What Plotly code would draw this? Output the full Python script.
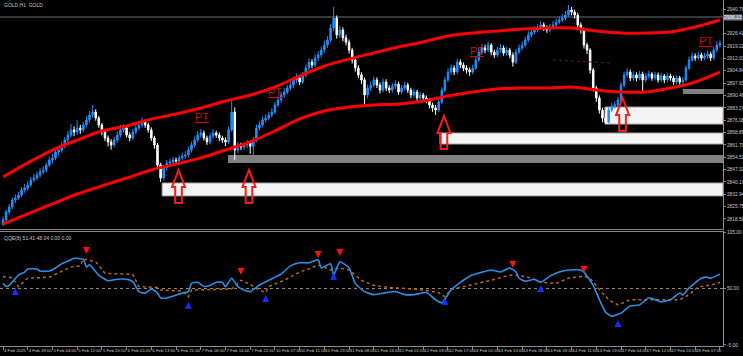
import plotly.graph_objects as go

# ---------------- data ----------------
time_labels = ["4 Feb 2025", "4 Feb 19:00", "5 Feb 04:00", "5 Feb 12:00", "5 Feb 20:00",
               "6 Feb 05:00", "6 Feb 13:00", "6 Feb 21:00", "7 Feb 06:00", "7 Feb 14:00",
               "7 Feb 22:00", "10 Feb 07:00", "10 Feb 15:00", "10 Feb 23:00", "11 Feb 08:00",
               "11 Feb 16:00", "12 Feb 01:00", "12 Feb 09:00", "12 Feb 17:00", "13 Feb 02:00",
               "13 Feb 10:00", "13 Feb 18:00", "14 Feb 03:00", "14 Feb 11:00", "14 Feb 19:00",
               "17 Feb 04:00", "17 Feb 12:00", "17 Feb 20:00", "18 Feb 07:00", "18 Feb 15:00"]
label_every = 8

first_open = 2815.5
close = [2818.0, 2822.6, 2825.5, 2829.6, 2830.8, 2832.5, 2835.4, 2836.6, 2838.3, 2841.3,
         2842.4, 2844.2, 2846.0, 2847.1, 2850.0, 2852.9, 2854.1, 2857.5, 2858.7, 2861.0,
         2864.5, 2867.4, 2870.4, 2869.2, 2871.5, 2870.4, 2873.3, 2876.2, 2879.1, 2880.8,
         2877.3, 2873.3, 2869.2, 2865.7, 2863.4, 2861.6, 2864.5, 2867.4, 2870.4, 2871.5,
         2867.4, 2865.7, 2869.2, 2871.5, 2873.3, 2875.0, 2873.3, 2870.4, 2865.7, 2861.6,
         2850.0, 2842.4, 2848.3, 2851.1, 2851.7, 2852.9, 2852.3, 2854.1, 2855.2, 2855.8,
         2858.7, 2861.6, 2864.5, 2867.4, 2868.6, 2865.7, 2863.4, 2866.9, 2868.6, 2867.4,
         2865.7, 2864.5, 2863.4, 2870.4, 2880.8, 2858.7, 2861.6, 2860.4, 2861.6, 2862.8,
         2860.9, 2864.5, 2871.5, 2873.3, 2876.2, 2877.3, 2879.1, 2880.8, 2884.9, 2887.8,
         2890.7, 2892.5, 2894.8, 2896.5, 2899.5, 2900.6, 2898.3, 2902.4, 2906.4, 2909.9,
         2908.2, 2912.3, 2914.0, 2916.9, 2919.8, 2922.7, 2929.7, 2935.5, 2925.7, 2928.6,
         2924.0, 2921.5, 2916.9, 2911.1, 2906.4, 2902.4, 2899.5, 2890.7, 2894.8, 2896.5,
         2899.5, 2896.5, 2893.6, 2898.3, 2894.8, 2893.6, 2895.9, 2897.1, 2892.5, 2894.8,
         2896.5, 2893.6, 2890.7, 2892.5, 2889.0, 2890.7, 2889.0, 2887.8, 2884.9, 2883.2,
         2882.0, 2886.6, 2893.6, 2899.5, 2904.1, 2906.4, 2904.1, 2909.9, 2908.2, 2906.4,
         2905.3, 2904.1, 2906.4, 2911.1, 2915.7, 2918.1, 2916.9, 2919.8, 2915.7, 2914.0,
         2916.9, 2918.1, 2915.2, 2916.9, 2914.0, 2909.9, 2915.7, 2918.1, 2919.8, 2922.7,
         2925.7, 2927.4, 2928.6, 2929.7, 2931.5, 2929.7, 2928.6, 2930.3, 2931.5, 2933.2,
         2934.4, 2935.5, 2937.3, 2940.2, 2939.0, 2937.3, 2931.5, 2928.6, 2919.8, 2916.9,
         2905.3, 2894.8, 2889.0, 2882.0, 2877.3, 2875.0, 2882.0, 2884.3, 2884.9, 2887.8,
         2896.5, 2902.4, 2904.1, 2900.6, 2902.4, 2900.6, 2902.9, 2899.5, 2901.8, 2902.9,
         2900.6, 2902.4, 2899.5, 2901.8, 2899.5, 2901.8, 2900.6, 2898.3, 2900.6, 2898.3,
         2899.5, 2906.4, 2911.1, 2913.4, 2912.2, 2914.0, 2912.2, 2913.4, 2914.5, 2912.2,
         2916.9, 2919.8, 2920.9]
high = [2820.0, 2824.0, 2827.2, 2831.0, 2833.0, 2834.2, 2837.1, 2839.0, 2840.5, 2843.0,
        2844.8, 2846.1, 2848.2, 2849.3, 2851.6, 2854.9, 2856.3, 2859.4, 2861.0, 2863.5,
        2866.4, 2869.9, 2873.8, 2872.5, 2876.0, 2873.4, 2875.1, 2878.3, 2881.4, 2884.9,
        2882.5, 2878.6, 2874.5, 2870.8, 2867.2, 2865.0, 2866.3, 2869.5, 2873.3, 2873.6,
        2872.8, 2869.0, 2870.9, 2873.6, 2875.4, 2877.6, 2876.4, 2874.6, 2871.9, 2867.0,
        2862.8, 2851.2, 2849.9, 2852.9, 2853.6, 2854.6, 2854.4, 2856.0, 2857.2, 2857.9,
        2860.5, 2863.6, 2866.6, 2869.8, 2870.9, 2870.0, 2867.1, 2868.7, 2870.8, 2869.9,
        2868.9, 2867.0, 2866.1, 2872.3, 2887.2, 2883.5, 2863.3, 2863.0, 2863.2, 2864.5,
        2864.0, 2866.2, 2873.4, 2875.6, 2878.1, 2879.5, 2881.0, 2882.9, 2886.7, 2890.0,
        2892.6, 2894.9, 2896.7, 2898.9, 2901.4, 2903.3, 2902.0, 2904.2, 2908.5, 2912.0,
        2911.6, 2914.4, 2916.3, 2919.0, 2922.3, 2925.0, 2932.0, 2942.0, 2937.0, 2931.0,
        2930.1, 2925.8, 2923.0, 2918.2, 2912.6, 2908.0, 2904.0, 2900.9, 2896.8, 2898.7,
        2901.5, 2901.0, 2898.0, 2900.2, 2899.9, 2896.4, 2897.6, 2899.4, 2898.6, 2896.6,
        2898.3, 2897.9, 2895.0, 2894.4, 2893.8, 2892.5, 2892.0, 2890.5, 2889.0, 2886.3,
        2885.0, 2888.4, 2895.2, 2901.3, 2906.2, 2908.6, 2908.0, 2911.8, 2911.5, 2909.7,
        2908.1, 2906.8, 2908.3, 2913.0, 2918.0, 2920.5, 2920.0, 2921.9, 2921.0, 2917.2,
        2918.7, 2920.3, 2919.6, 2918.8, 2918.1, 2915.5, 2917.4, 2920.2, 2922.0, 2924.8,
        2927.9, 2929.3, 2930.9, 2932.0, 2933.6, 2933.0, 2931.2, 2932.1, 2933.8, 2935.3,
        2936.6, 2937.9, 2939.6, 2943.1, 2942.0, 2940.5, 2938.6, 2933.0, 2929.9, 2921.2,
        2918.0, 2906.5, 2896.1, 2890.5, 2883.4, 2880.0, 2883.6, 2886.2, 2887.0, 2889.6,
        2898.2, 2904.4, 2906.3, 2905.6, 2904.5, 2904.0, 2904.8, 2904.3, 2903.6, 2904.9,
        2904.1, 2904.3, 2903.8, 2903.7, 2903.0, 2903.6, 2903.2, 2902.0, 2902.4, 2901.9,
        2901.2, 2908.0, 2913.1, 2915.6, 2915.0, 2916.0, 2915.4, 2915.3, 2916.6, 2915.9,
        2918.6, 2922.0, 2922.6]
low = [2814.3, 2816.9, 2821.0, 2824.3, 2827.8, 2829.5, 2831.3, 2833.8, 2835.0, 2837.2,
       2839.9, 2841.0, 2842.7, 2844.6, 2845.8, 2848.7, 2851.0, 2852.8, 2855.6, 2857.1,
       2859.6, 2862.8, 2866.0, 2866.7, 2867.5, 2868.1, 2869.0, 2872.0, 2874.9, 2877.6,
       2875.8, 2871.7, 2867.3, 2863.9, 2860.8, 2858.9, 2860.2, 2863.0, 2866.1, 2868.9,
       2865.9, 2863.8, 2864.4, 2868.0, 2870.2, 2871.9, 2871.6, 2868.8, 2864.0, 2859.5,
       2847.6, 2840.1, 2841.0, 2846.9, 2849.5, 2850.3, 2850.6, 2851.0, 2852.7, 2853.6,
       2854.4, 2857.2, 2860.3, 2863.1, 2866.0, 2864.2, 2861.7, 2862.0, 2865.4, 2865.8,
       2863.9, 2862.7, 2861.0, 2862.1, 2869.5, 2852.9, 2857.0, 2858.6, 2858.9, 2859.8,
       2856.5, 2855.5, 2863.1, 2870.0, 2872.0, 2874.6, 2875.9, 2877.7, 2879.5, 2883.6,
       2886.3, 2889.0, 2891.2, 2893.3, 2895.0, 2897.8, 2896.4, 2897.0, 2901.0, 2905.0,
       2906.3, 2907.0, 2910.6, 2912.5, 2915.4, 2918.2, 2921.4, 2928.0, 2923.5, 2924.0,
       2922.0, 2919.6, 2915.0, 2909.0, 2904.3, 2900.6, 2897.2, 2885.5, 2888.9, 2893.0,
       2895.2, 2894.8, 2891.7, 2892.3, 2893.0, 2891.8, 2892.1, 2894.4, 2890.8, 2891.0,
       2893.2, 2891.9, 2888.8, 2889.3, 2887.2, 2887.6, 2887.1, 2885.9, 2883.0, 2880.9,
       2879.1, 2880.7, 2885.5, 2892.4, 2898.1, 2902.5, 2902.2, 2903.0, 2906.4, 2904.6,
       2903.2, 2901.9, 2902.8, 2905.2, 2910.0, 2914.2, 2915.1, 2915.6, 2913.8, 2912.2,
       2912.8, 2915.4, 2913.6, 2913.7, 2912.1, 2907.3, 2908.8, 2914.6, 2916.8, 2918.5,
       2921.4, 2924.2, 2926.0, 2927.1, 2928.3, 2928.0, 2926.9, 2927.2, 2929.0, 2930.2,
       2931.9, 2933.0, 2934.1, 2936.2, 2937.0, 2935.2, 2929.7, 2926.5, 2917.8, 2914.6,
       2903.2, 2892.7, 2886.8, 2879.9, 2874.8, 2874.0, 2874.2, 2880.8, 2882.7, 2883.5,
       2886.6, 2895.3, 2900.9, 2898.9, 2899.0, 2898.7, 2899.3, 2892.0, 2898.0, 2900.3,
       2899.0, 2899.2, 2897.9, 2898.2, 2897.6, 2898.0, 2899.0, 2896.6, 2897.0, 2896.7,
       2896.5, 2898.4, 2905.3, 2910.0, 2910.6, 2910.9, 2910.6, 2911.0, 2911.9, 2910.5,
       2911.0, 2915.6, 2918.4]

# envelope (upper / lower band) read every 8 bars
band_bars = [0, 8, 16, 24, 32, 40, 48, 56, 64, 72, 80, 88, 96, 104, 112, 120, 128, 136,
             144, 152, 160, 168, 176, 184, 192, 200, 208, 216, 224, 232]
band_upper = [2843.0, 2851.2, 2858.7, 2864.5, 2869.8, 2872.7, 2876.7, 2879.7, 2883.2, 2887.2,
              2890.7, 2895.4, 2901.8, 2907.6, 2911.7, 2915.2, 2918.7, 2921.6, 2925.1, 2926.8,
              2928.0, 2929.1, 2929.7, 2929.7, 2928.0, 2926.8, 2926.8, 2927.4, 2930.3, 2934.4]
band_lower = [2815.6, 2821.5, 2827.3, 2833.1, 2837.8, 2842.4, 2847.1, 2850.6, 2854.1, 2858.7,
              2863.4, 2869.8, 2876.8, 2881.4, 2883.7, 2884.9, 2885.5, 2887.2, 2890.2, 2892.5,
              2894.2, 2894.8, 2894.8, 2895.4, 2893.6, 2892.5, 2892.5, 2894.8, 2898.3, 2904.1]

# zones (start bar, top price, bottom price, kind)
zone_start = [51.5, 72.8, 141.4, 194.8, 220.0]
zone_top = [2839.5, 2855.8, 2868.6, 2883.7, 2894.2]
zone_bottom = [2832.0, 2851.1, 2862.2, 2873.8, 2891.3]
zone_kind = ["light", "dark", "light", "light", "dark"]

# buy signal arrows on price chart (bar, tip price)
signal_bars = [56.8, 79.6, 142.7, 200.5]
signal_tips = [2847.1, 2847.1, 2878.5, 2889.0]

# "PT" labels (bar, price)
pt_bars = [64.4, 88.0, 153.4, 227.5]
pt_prices = [2877.9, 2892.5, 2916.3, 2922.2]

# faint dotted level
level_bars = [178, 196.5]
level_prices = [2911.1, 2909.4]

# horizontal line object
hline_price = 2936.13
hline_text = "2936.13"

price_ticks = [2940.79, 2926.41, 2919.22, 2912.03, 2904.84, 2897.65, 2890.46, 2883.27,
               2876.08, 2868.89, 2861.70, 2854.51, 2847.32, 2840.13, 2832.94, 2825.75, 2818.56]

# QQE sub-window
qqe_fast_bars = [0, 1, 2, 5, 7, 8, 11, 12, 15, 17, 19, 22, 23, 26, 27, 28, 29, 31, 34, 37,
                 40, 42, 44, 46, 48, 50, 51, 53, 58, 60, 61, 63, 65, 67, 69, 71, 72, 74, 76, 78,
                 80, 83, 86, 90, 93, 96, 99, 102, 103, 106, 107, 109, 112, 114, 117, 120, 124,
                 127, 130, 133, 137, 140, 142, 145, 148, 151, 154, 158, 161, 164, 166, 167, 169,
                 172, 174, 177, 180, 183, 187, 188, 191, 193, 195, 197, 200, 203, 206, 209, 213,
                 216, 219, 220, 222, 226, 228, 229, 232]
qqe_fast = [55, 52, 53, 63, 66, 69, 69, 67, 67, 70, 74, 78, 79.4, 78.4, 71, 73, 70, 63, 57.6, 59,
            59, 56.7, 47, 45.5, 49.5, 45.5, 41, 40.8, 45.5, 47, 55, 56, 52, 53, 56, 56, 51.8, 60, 51.8, 48.5,
            47, 53.4, 58, 64, 72, 75, 75, 78, 70, 74, 63, 76, 70, 55, 47, 44, 46,
            47, 44, 44, 46, 39, 36, 48.5, 56, 62, 65, 68, 66, 70, 66, 60, 57,
            59, 56, 62, 66, 68, 68, 66, 53, 39, 27, 23, 26, 33, 34, 41, 37,
            39, 45.6, 43.7, 50.5, 60, 61, 60, 64]
qqe_slow_bars = [0, 3, 5, 8, 15, 22, 25, 26, 30, 33, 42, 44, 50, 51, 58, 60, 61, 74, 77, 80,
                 83, 85, 86, 91, 96, 99, 102, 106, 109, 112, 116, 120, 125, 135, 141, 143, 145,
                 151, 158, 164, 167, 171, 174, 179, 183, 188, 190, 193, 196, 199, 203, 209, 219,
                 222, 225, 230, 232]
qqe_slow = [61.5, 60.5, 51.8, 60, 61, 71, 72, 78.7, 76, 64.8, 63.8, 51.8, 51, 48.5, 47.6, 42, 48.5, 49.5, 58, 54,
            48.5, 46, 52, 58, 66, 69, 73, 68, 70, 68, 58, 53, 51, 49, 46, 42, 49,
            53, 58, 63, 63, 60, 56, 55, 60, 62, 60, 49, 39, 34, 39, 39, 39,
            44, 51.5, 54, 56]
sell_bars = [27, 77, 102, 109, 165, 188]
sell_vals = [83.6, 63.1, 79.7, 81.6, 70.0, 65.1]
buy_bars = [4, 60, 85, 107, 143, 174, 199]
buy_vals = [50.5, 37.0, 43.7, 65.0, 40.8, 53.4, 19.3]
qqe_ticks = [105, 50, -5]
qqe_mid = 50

# ---------------- layout constants ----------------
W, H = 743, 356
PLOT_RIGHT = 723
X_MIN, X_MAX = -0.97, 233.0
PX_PER_BAR = PLOT_RIGHT / (X_MAX - X_MIN)
Y_MIN, Y_MAX = 2812.73, 2946.03
MAIN_TOP, MAIN_BOTTOM = 0, 229
PRICE_PER_PX = (Y_MAX - Y_MIN) / (MAIN_BOTTOM - MAIN_TOP)
SUB_TOP, SUB_BOTTOM = 232, 346

TXT = "#c8c8c8"
AXC = "#8a8a8a"
FONT = "Liberation Sans"
TS = 4.8
XTS = 4.3

bars = list(range(len(close)))
opens = [first_open] + close[:-1]

fig = go.Figure()

fig.add_trace(go.Candlestick(
    x=bars, open=opens, high=high, low=low, close=close,
    xaxis="x", yaxis="y", whiskerwidth=0,
    increasing=dict(line=dict(color="#1e90ff", width=1), fillcolor="#1e90ff"),
    decreasing=dict(line=dict(color="#ffffff", width=1), fillcolor="#ffffff"),
    showlegend=False, hoverinfo="skip"))

for band in (band_upper, band_lower):
    fig.add_trace(go.Scatter(x=band_bars, y=band, mode="lines", xaxis="x", yaxis="y",
                             line=dict(color="#ff0000", width=3, shape="spline", smoothing=0.8),
                             showlegend=False, hoverinfo="skip"))

fig.add_trace(go.Scatter(x=level_bars, y=level_prices, mode="lines", xaxis="x", yaxis="y",
                         line=dict(color="#7a1010", width=1, dash="dot"),
                         showlegend=False, hoverinfo="skip"))

# QQE
fig.add_trace(go.Scatter(x=[X_MIN, X_MAX], y=[qqe_mid, qqe_mid], mode="lines", xaxis="x2", yaxis="y2",
                         line=dict(color="#9a8a66", width=1, dash="dot"),
                         showlegend=False, hoverinfo="skip"))
fig.add_trace(go.Scatter(x=qqe_slow_bars, y=qqe_slow, mode="lines", xaxis="x2", yaxis="y2",
                         line=dict(color="#b8691c", width=1.5, dash="dot"),
                         showlegend=False, hoverinfo="skip"))
fig.add_trace(go.Scatter(x=qqe_fast_bars, y=qqe_fast, mode="lines", xaxis="x2", yaxis="y2",
                         line=dict(color="#2b8fe8", width=1.6, shape="spline", smoothing=0.5),
                         showlegend=False, hoverinfo="skip"))
fig.add_trace(go.Scatter(x=sell_bars, y=sell_vals, mode="markers", xaxis="x2", yaxis="y2",
                         marker=dict(symbol="arrow-down", size=7, color="#ff1010"),
                         showlegend=False, hoverinfo="skip"))
fig.add_trace(go.Scatter(x=buy_bars, y=buy_vals, mode="markers", xaxis="x2", yaxis="y2",
                         marker=dict(symbol="arrow-up", size=7, color="#1030ff"),
                         showlegend=False, hoverinfo="skip"))

shapes = []
# zones
for s, t, b, k in zip(zone_start, zone_top, zone_bottom, zone_kind):
    if k == "light":
        fill, lc, lw = "#f4f4f4", "#a8a8a8", 1
    else:
        fill, lc, lw = "#808080", "#808080", 0
    shapes.append(dict(type="rect", xref="x", yref="y", x0=s, x1=X_MAX, y0=b, y1=t,
                       fillcolor=fill, line=dict(color=lc, width=lw), layer="below"))
# horizontal line object
shapes.append(dict(type="line", xref="x", yref="y", x0=X_MIN, x1=X_MAX, y0=hline_price, y1=hline_price,
                   line=dict(color="#6e6e6e", width=1), layer="below"))
# hollow buy arrows
hw = 6.5 / PX_PER_BAR
sw = 3.3 / PX_PER_BAR
hh = 17 * PRICE_PER_PX
th = 33 * PRICE_PER_PX
for bx, tp in zip(signal_bars, signal_tips):
    pts = [(bx, tp), (bx + hw, tp - hh), (bx + sw, tp - hh), (bx + sw, tp - th),
           (bx - sw, tp - th), (bx - sw, tp - hh), (bx - hw, tp - hh)]
    path = "M " + " L ".join(f"{x:.3f},{y:.3f}" for x, y in pts) + " Z"
    shapes.append(dict(type="path", xref="x", yref="y", path=path,
                       line=dict(color="#ff1a1a", width=2), fillcolor="rgba(0,0,0,0)"))

annotations = []
for bx, py in zip(pt_bars, pt_prices):
    annotations.append(dict(x=bx, y=py, xref="x", yref="y", text="<u>PT</u>", showarrow=False,
                            font=dict(family=FONT, size=11, color="#c41010")))
annotations.append(dict(x=0.003, y=1.0, xref="paper", yref="paper", xanchor="left", yanchor="top",
                        text="GOLD,H1  GOLD", showarrow=False, font=dict(family=FONT, size=5, color=TXT)))
annotations.append(dict(x=0.003, y=1 - (SUB_TOP + 1) / H, xref="paper", yref="paper", xanchor="left",
                        yanchor="top", text="QQE(8) 51.41 48.04 0.00 0.00", showarrow=False,
                        font=dict(family=FONT, size=5, color=TXT)))
annotations.append(dict(x=1.0, y=hline_price, xref="paper", yref="y", xanchor="right", yanchor="middle",
                        text=hline_text, showarrow=False, bgcolor="#6f7c8a", borderpad=0,
                        font=dict(family=FONT, size=TS, color="#ffffff")))

xd = [0, PLOT_RIGHT / W]
fig.update_layout(
    width=W, height=H, margin=dict(l=0, r=0, t=0, b=0, autoexpand=False),
    paper_bgcolor="#000000", plot_bgcolor="#000000",
    showlegend=False, shapes=shapes, annotations=annotations,
    xaxis=dict(domain=xd, range=[X_MIN, X_MAX], anchor="y", showticklabels=False, ticks="",
               showgrid=False, zeroline=False, showline=True, linecolor=AXC, linewidth=1,
               rangeslider=dict(visible=False), fixedrange=True, automargin=False),
    yaxis=dict(domain=[1 - MAIN_BOTTOM / H, 1 - MAIN_TOP / H], range=[Y_MIN, Y_MAX], anchor="x",
               side="right", showgrid=False, zeroline=False, showline=True, linecolor=AXC,
               tickmode="array", tickvals=price_ticks, ticktext=[f"{v:.2f}" for v in price_ticks],
               ticks="outside", ticklen=2, tickcolor=AXC, automargin=False,
               tickfont=dict(family=FONT, size=TS, color=TXT)),
    xaxis2=dict(domain=xd, range=[X_MIN, X_MAX], anchor="y2", matches="x", showgrid=False,
                zeroline=False, showline=True, mirror=True, linecolor=AXC, automargin=False,
                tickmode="array", tickvals=list(range(0, len(time_labels) * label_every, label_every)),
                ticktext=time_labels, ticks="outside", ticklen=3, tickcolor=AXC, tickangle=0,
                ticklabelposition="outside right",
                tickfont=dict(family=FONT, size=XTS, color=TXT)),
    yaxis2=dict(domain=[1 - SUB_BOTTOM / H, 1 - SUB_TOP / H], range=[-6, 105], anchor="x2",
                side="right", showgrid=False, zeroline=False, showline=True, linecolor=AXC,
                tickmode="array", tickvals=qqe_ticks, ticktext=[f"{v:.2f}" for v in qqe_ticks],
                ticks="outside", ticklen=2, tickcolor=AXC, automargin=False,
                tickfont=dict(family=FONT, size=TS, color=TXT)),
)

fig.write_html("out.html", config={"displayModeBar": False},
               post_script="document.body.style.margin='0px';document.body.style.overflow='hidden';")
